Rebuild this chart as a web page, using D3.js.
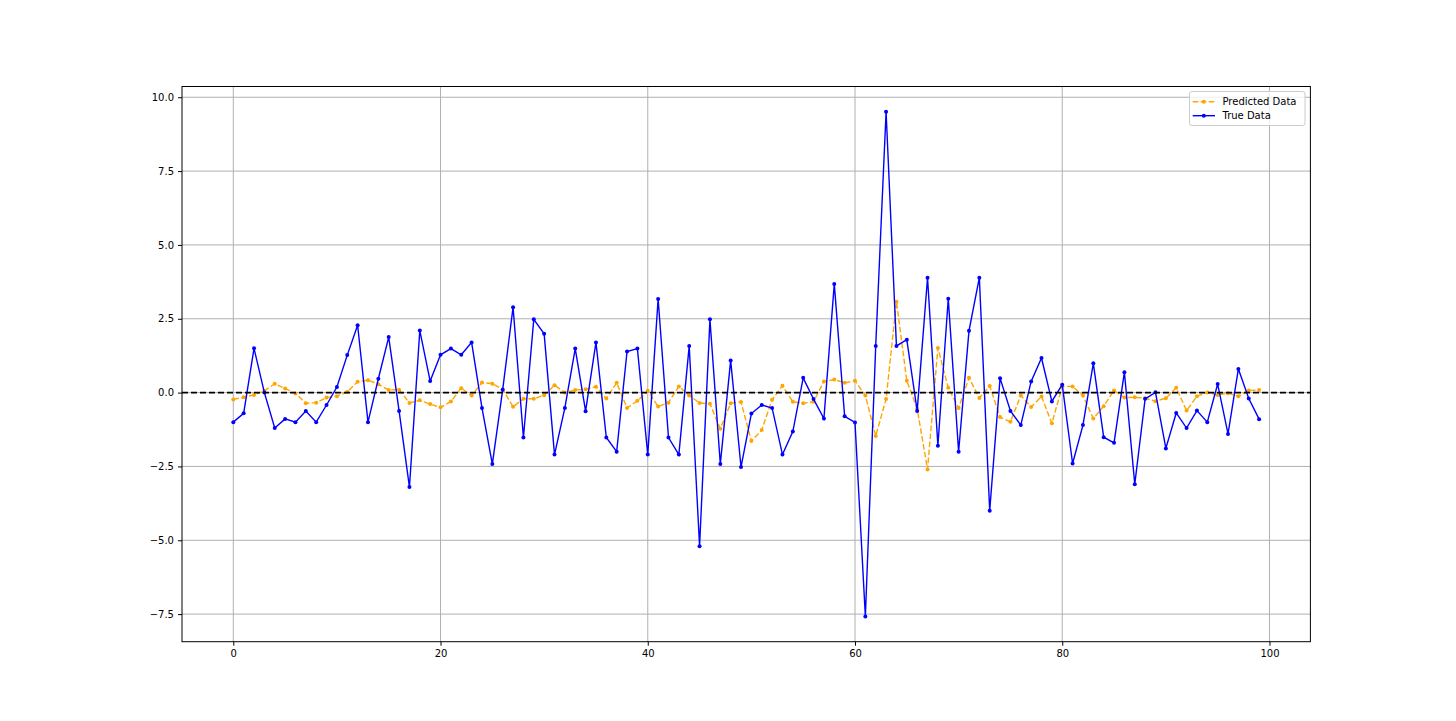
<!DOCTYPE html>
<html>
<head>
<meta charset="utf-8">
<script src="https://cdn.jsdelivr.net/npm/d3@7"></script>
<style>
  html, body { margin: 0; padding: 0; background: #fff; }
  svg { display: block; }
  text { font-family: "DejaVu Sans", sans-serif; }
</style>
</head>
<body>
<svg id="chart" width="1456" height="721"></svg>
<script>
const trueData = [
  -1.0, -0.7, 1.5, 0.0, -1.2, -0.89, -1.0, -0.62, -1.0, -0.42,
  0.19, 1.27, 2.28, -1.0, 0.47, 1.88, -0.62, -3.2, 2.1, 0.39,
  1.28, 1.49, 1.28, 1.70, -0.52, -2.42, 0.10, 2.89, -1.52, 2.48,
  1.99, -2.1, -0.52, 1.49, -0.63, 1.70, -1.52, -2.0, 1.39, 1.49,
  -2.1, 3.17, -1.52, -2.1, 1.58, -5.2, 2.48, -2.42, 1.09, -2.52,
  -0.71, -0.42, -0.52, -2.1, -1.32, 0.5, -0.22, -0.88, 3.68, -0.8,
  -1.01, -7.58, 1.58, 9.51, 1.58, 1.79, -0.62, 3.89, -1.8, 3.18,
  -2.0, 2.09, 3.89, -4.0, 0.49, -0.62, -1.1, 0.38, 1.17, -0.3,
  0.27, -2.4, -1.1, 0.99, -1.51, -1.7, 0.69, -3.1, -0.21, 0.01,
  -1.89, -0.69, -1.2, -0.61, -1.0, 0.29, -1.4, 0.8, -0.2, -0.9
];
const predictedData = [
  -0.23, -0.16, -0.08, 0.06, 0.30, 0.14, -0.03, -0.36, -0.34, -0.17,
  -0.12, 0.02, 0.37, 0.42, 0.28, 0.09, 0.10, -0.35, -0.26, -0.39,
  -0.50, -0.30, 0.15, -0.10, 0.34, 0.30, 0.11, -0.48, -0.21, -0.21,
  -0.09, 0.25, 0.0, 0.09, 0.11, 0.20, -0.2, 0.33, -0.52, -0.28,
  0.06, -0.47, -0.34, 0.21, -0.10, -0.35, -0.38, -1.22, -0.36, -0.32,
  -1.64, -1.27, -0.24, 0.23, -0.31, -0.36, -0.31, 0.38, 0.44, 0.33,
  0.40, -0.10, -1.47, -0.22, 3.08, 0.40, -0.55, -2.6, 1.51, 0.16,
  -0.52, 0.5, -0.18, 0.22, -0.83, -0.99, -0.10, -0.49, -0.13, -1.04,
  0.21, 0.21, -0.10, -0.88, -0.46, 0.07, -0.17, -0.16, -0.19, -0.29,
  -0.19, 0.16, -0.61, -0.12, 0.0, -0.08, -0.02, -0.12, 0.07, 0.09
];
const xTicks = [0, 20, 40, 60, 80, 100];
const yTicks = [-7.5, -5.0, -2.5, 0.0, 2.5, 5.0, 7.5, 10.0];
const seriesNames = ["Predicted Data", "True Data"];

(function () {
const W = 1456, H = 721;
const pL = 182, pR = 1310.4, pT = 86.5, pB = 641.7;
const svg = d3.select("#chart");

const n = trueData.length;
const xPad = (n - 1) * 0.05;
const x = d3.scaleLinear().domain([-xPad, n - 1 + xPad]).range([pL, pR]);
const all = trueData.concat(predictedData);
const ymin = d3.min(all), ymax = d3.max(all);
const yPad = (ymax - ymin) * 0.05;
const y = d3.scaleLinear().domain([ymin - yPad, ymax + yPad]).range([pB, pT]);

const fmtY = v => (v < 0 ? "\u2212" : "") + Math.abs(v).toFixed(1);

// grid
const grid = svg.append("g");
grid.selectAll("line.vx").data(xTicks).enter().append("line")
  .attr("x1", d => x(d)).attr("x2", d => x(d)).attr("y1", pT).attr("y2", pB)
  .attr("stroke", "#b0b0b0").attr("stroke-width", 1);
grid.selectAll("line.hy").data(yTicks).enter().append("line")
  .attr("x1", pL).attr("x2", pR).attr("y1", d => y(d)).attr("y2", d => y(d))
  .attr("stroke", "#b0b0b0").attr("stroke-width", 1);

// series
const line = d3.line().x((d, i) => x(i)).y(d => y(d));
const series = [
  { name: seriesNames[0], data: predictedData, color: "orange", dash: "5.6,2.4" },
  { name: seriesNames[1], data: trueData, color: "blue", dash: null }
];
svg.append("clipPath").attr("id", "clip").append("rect")
  .attr("x", pL).attr("y", pT).attr("width", pR - pL).attr("height", pB - pT);
const plot = svg.append("g").attr("clip-path", "url(#clip)");
series.forEach(s => {
  plot.append("path").datum(s.data).attr("d", line)
    .attr("fill", "none").attr("stroke", s.color).attr("stroke-width", 1.4)
    .attr("stroke-dasharray", s.dash);
  plot.selectAll(null).data(s.data).enter().append("circle")
    .attr("cx", (d, i) => x(i)).attr("cy", d => y(d)).attr("r", 2)
    .attr("fill", s.color);
});

// zero line
plot.append("line").attr("x1", pL).attr("x2", pR).attr("y1", y(0)).attr("y2", y(0))
  .attr("stroke", "black").attr("stroke-width", 1.8).attr("stroke-dasharray", "6,3");

// axes
const xAxis = d3.axisBottom(x).tickValues(xTicks).tickSize(4).tickPadding(4).tickFormat(d3.format("d"));
const yAxis = d3.axisLeft(y).tickValues(yTicks).tickSize(4).tickPadding(4).tickFormat(fmtY);
const gx = svg.append("g").attr("transform", `translate(0,${pB})`).call(xAxis);
const gy = svg.append("g").attr("transform", `translate(${pL},0)`).call(yAxis);
[gx, gy].forEach(g => {
  g.select(".domain").remove();
  g.selectAll("line").attr("stroke", "black").attr("stroke-width", 1);
  g.selectAll("text").attr("fill", "black").style("font-size", "10px").style("font-family", "DejaVu Sans");
});

// spines
svg.append("rect").attr("x", pL).attr("y", pT).attr("width", pR - pL).attr("height", pB - pT)
  .attr("fill", "none").attr("stroke", "black").attr("stroke-width", 1);

// legend
const lg = svg.append("g").attr("transform", "translate(1189.5,91.5)");
lg.append("rect").attr("width", 115.5).attr("height", 34).attr("rx", 2.5)
  .attr("fill", "white").attr("fill-opacity", 0.8).attr("stroke", "#cccccc").attr("stroke-width", 1);
series.forEach((s, i) => {
  const cy = 10.2 + i * 14;
  lg.append("line").attr("x1", 3.2).attr("x2", 25.5).attr("y1", cy).attr("y2", cy)
    .attr("stroke", s.color).attr("stroke-width", 1.4).attr("stroke-dasharray", s.dash);
  lg.append("circle").attr("cx", 14.3).attr("cy", cy).attr("r", 2).attr("fill", s.color);
  lg.append("text").attr("x", 33).attr("y", cy).attr("dy", "0.35em")
    .style("font-size", "10px").attr("fill", "black").text(s.name);
});
})();
</script>
</body>
</html>
